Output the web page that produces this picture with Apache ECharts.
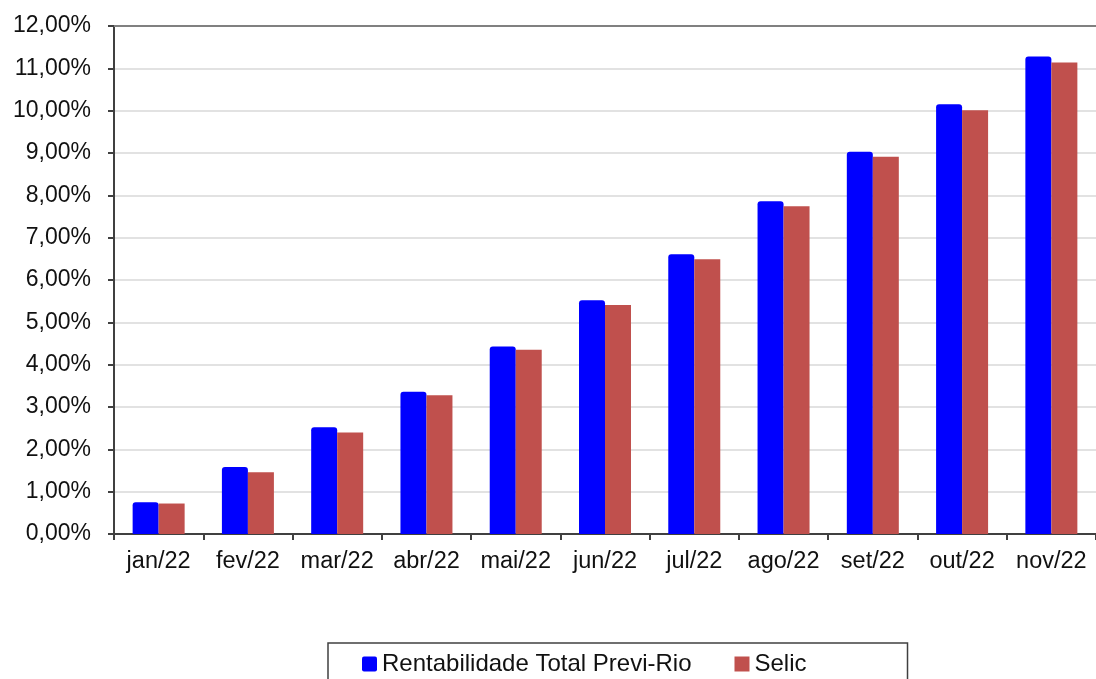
<!DOCTYPE html>
<html>
<head>
<meta charset="utf-8">
<script src="https://cdn.jsdelivr.net/npm/echarts@6/dist/echarts.min.js"></script>
<style>
html,body{margin:0;padding:0;background:#fff;}
#c{width:1096px;height:679px;}
</style>
</head>
<body>
<div id="c"></div>
<script>
const categories = ['jan/22','fev/22','mar/22','abr/22','mai/22','jun/22','jul/22','ago/22','set/22','out/22','nov/22'];
const previRio = [0.75, 1.58, 2.52, 3.36, 4.43, 5.52, 6.61, 7.86, 9.03, 10.15, 11.28];
const selic = [0.72, 1.46, 2.40, 3.28, 4.35, 5.41, 6.49, 7.74, 8.91, 10.01, 11.14];
const seriesNames = ['Rentabilidade Total Previ-Rio', 'Selic'];

const chart = echarts.init(document.getElementById('c'), null, {renderer:'canvas'});
const font = 'Liberation Sans, Arial, sans-serif';
chart.setOption({
  animation:false,
  backgroundColor:'#ffffff',
  grid:{left:114, top:26, width:984, height:508, containLabel:false},
  legend:{
    left:328, top:643,
    padding:[9,101,12,34],
    itemGap:43,
    itemWidth:15, itemHeight:15,
    borderColor:'#404040', borderWidth:1.5,
    textStyle:{fontFamily:font, fontSize:24, color:'#111'},
    data:[
      {name:seriesNames[0], icon:'path://M2,0L13,0Q15,0 15,2L15,13Q15,15 13,15L2,15Q0,15 0,13L0,2Q0,0 2,0Z'},
      {name:seriesNames[1], icon:'path://M1,1L14,1L14,14L1,14Z'}
    ]
  },
  xAxis:[{
    type:'category', data:categories,
    axisLine:{lineStyle:{color:'#404040', width:2}},
    axisTick:{show:true, interval:0, length:6, alignWithLabel:false, lineStyle:{color:'#404040', width:2}},
    axisLabel:{interval:0, hideOverlap:false, fontFamily:font, fontSize:23.5, color:'#111', margin:16}
  },{
    type:'category', data:categories, position:'top',
    axisLine:{show:true, lineStyle:{color:'#808080', width:2}},
    axisTick:{show:false}, axisLabel:{show:false}
  }],
  yAxis:{
    type:'value', min:0, max:12, interval:1,
    axisLine:{show:true, lineStyle:{color:'#404040', width:2}},
    axisTick:{show:true, length:6, lineStyle:{color:'#404040', width:2}},
    splitLine:{lineStyle:{color:'#d9d9d9', width:1.5}},
    axisLabel:{fontFamily:font, fontSize:23, color:'#111', margin:23,
      formatter:v=>v.toFixed(2).replace('.',',')+'%'}
  },
  series:[{
    name:seriesNames[0], type:'bar', data:previRio,
    barWidth:26, barGap:'0%',
    itemStyle:{color:'#0000ff', borderRadius:[3,3,0,0]}
  },{
    name:seriesNames[1], type:'bar', data:selic,
    barWidth:26, barGap:'0%',
    itemStyle:{color:'#c0504d'}
  }]
});
</script>
</body>
</html>
